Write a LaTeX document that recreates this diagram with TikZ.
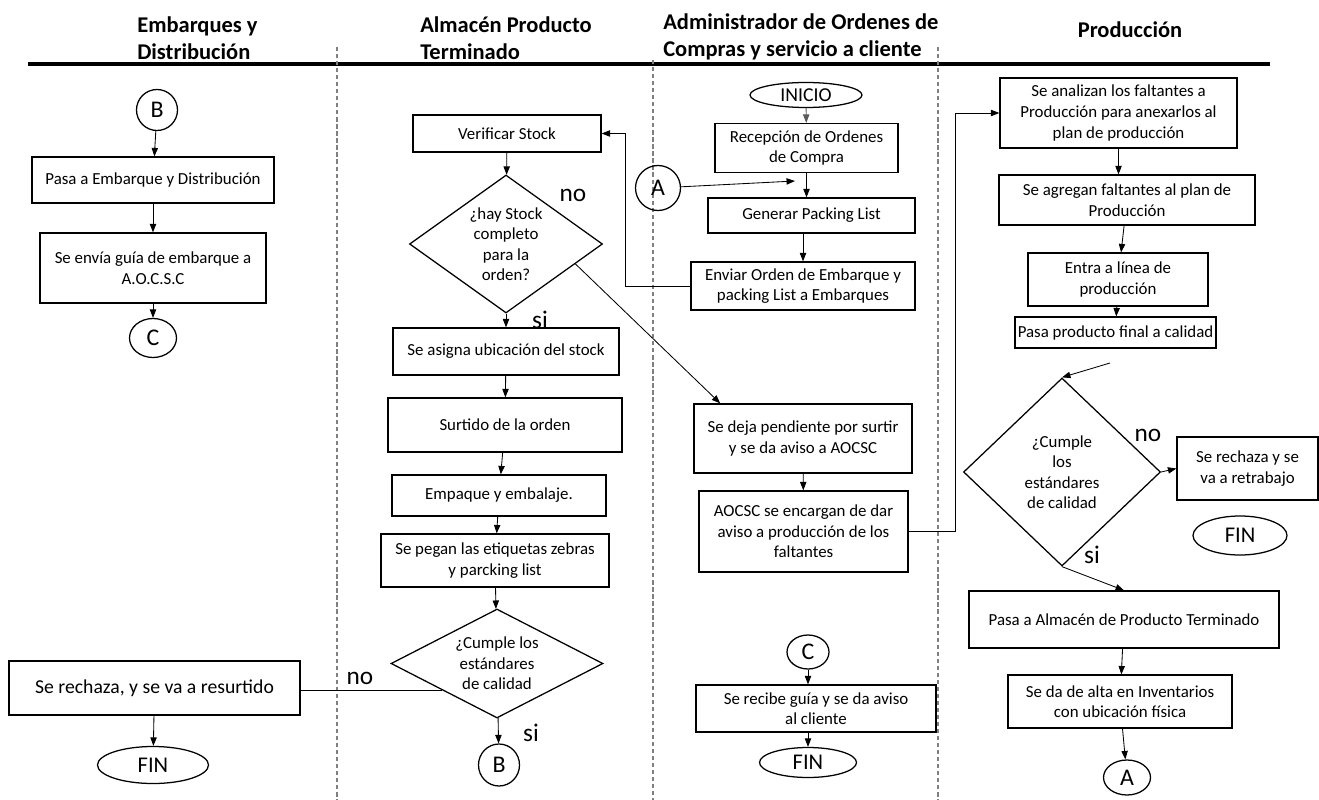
\documentclass[tikz,border=0pt]{standalone}
\usepackage{fontspec}
\setmainfont{Carlito}
\usetikzlibrary{shapes.geometric, arrows.meta}
\tikzset{
  block/.style = {rectangle, draw, line width=0.9pt, align=center, inner sep=2pt, font=\fontsize{12}{14.6}\selectfont},
  decision/.style = {diamond, draw, line width=0.9pt, align=center, inner sep=0pt, font=\fontsize{12}{14.6}\selectfont},
  terminal/.style = {ellipse, draw, line width=0.9pt, inner sep=0pt, font=\fontsize{16}{19}\selectfont},
  connector/.style = {ellipse, draw, line width=0.9pt, inner sep=0pt, font=\fontsize{17}{20}\selectfont},
  answer/.style = {inner sep=0pt, font=\fontsize{18}{20}\selectfont},
  lane/.style = {inner sep=0pt, align=left, font=\bfseries\fontsize{16}{19.5}\selectfont},
  divider/.style = {gray, line width=0.8pt, dash pattern=on 3pt off 2pt},
  arrow/.style = {-{Triangle[length=6pt, width=4.5pt]}, line width=0.6pt},
  sz/.style 2 args = {minimum width=#1*0.025cm, minimum height=#2*0.025cm}
}
\begin{document}
\begin{tikzpicture}[x=0.025cm, y=-0.025cm]
\useasboundingbox (0,0) rectangle (1319,800);

\node[lane, anchor=west] (h1) at (137,38) {Embarques y\\Distribución};
\node[lane, anchor=west] (h2) at (420,38) {Almacén Producto\\Terminado};
\node[lane, anchor=west] (h3) at (663,37) {Administrador de Ordenes de\\Compras y servicio a cliente};
\node[lane] (h4) at (1130,30) {Producción};

\draw[line width=2.8pt] (28,64) -- (1270,64);
\draw[divider] (337,47) -- (337,800);
\draw[divider] (653,60) -- (653,800);
\draw[divider] (938,47) -- (938,800);

\node[connector, sz={41}{41}] (b1) at (157,110) {B};
\node[block, sz={242}{46}] (pasaemb) at (153,180) {Pasa a Embarque y Distribución};
\node[block, sz={226}{70}] (guia) at (153,268) {Se envía guía de embarque a\\A.O.C.S.C};
\node[connector, sz={47}{39}] (c1) at (153,338) {C};
\node[block, sz={291}{54}, font=\fontsize{14}{17}\selectfont] (resurt) at (154.5,688) {Se rechaza, y se va a resurtido};
\node[terminal, sz={111}{37}] (fin1) at (153,765) {FIN};

\node[block, sz={188}{37}] (verif) at (507,133.5) {Verificar Stock};
\node[decision, sz={193}{138}, aspect=1.4] (stock) at (506,244) {¿hay Stock\\completo\\para la\\orden?};
\node[block, sz={226}{47}] (ubica) at (506,351.5) {Se asigna ubicación del stock};
\node[block, sz={234}{54}] (surt) at (505,425) {Surtido de la orden};
\node[block, sz={214}{41}] (empaq) at (499,495.5) {Empaque y embalaje.};
\node[block, sz={228}{53}] (etiq) at (495,560.5) {Se pegan las etiquetas zebras\\y parcking list};
\node[decision, sz={212}{109}, aspect=2] (cal1) at (497,663.5) {¿Cumple los\\estándares\\de calidad};
\node[connector, sz={41}{42}] (b2) at (499,765) {B};

\node[terminal, sz={112}{25}, font=\fontsize{14}{17}\selectfont] (inicio) at (806,95) {INICIO};
\node[block, sz={183}{49}] (recep) at (806.5,148) {Recepción de Ordenes\\de Compra};
\node[connector, sz={45}{45}] (a1) at (658,188) {A};
\node[block, sz={207}{35}] (packing) at (811.5,215.5) {Generar Packing List};
\node[block, sz={224}{48}] (orden) at (803,286) {Enviar Orden de Embarque y\\packing List a Embarques};
\node[block, sz={218}{69}] (pend) at (803,438.5) {Se deja pendiente por surtir\\y se da aviso a AOCSC};
\node[block, sz={209}{81}] (aviso) at (803.5,531.5) {AOCSC se encargan de dar\\aviso a producción de los\\faltantes};
\node[connector, sz={42}{34}] (c2) at (808,652) {C};
\node[block, sz={240}{47}] (recibe) at (816,708.5) {Se recibe guía y se da aviso\\al cliente};
\node[terminal, sz={97}{30}] (fin2) at (808,762.5) {FIN};

\node[block, sz={237}{70}] (analiza) at (1118.5,113) {Se analizan los faltantes a\\Producción para anexarlos al\\plan de producción};
\node[block, sz={256}{50}] (agrega) at (1127,200) {Se agregan faltantes al plan de\\Producción};
\node[block, sz={180}{53}] (linea) at (1118,279.5) {Entra a línea de\\producción};
\node[block, sz={183}{31}] (final) at (1115.5,332.5) {Pasa producto final a calidad};
\node[decision, sz={197}{188}, aspect=1] (cal2) at (1062,472) {¿Cumple\\los\\estándares\\de calidad};
\node[block, sz={141}{63}] (retrab) at (1247.5,468.5) {Se rechaza y se\\va a retrabajo};
\node[terminal, sz={94}{39}] (fin3) at (1240,535.5) {FIN};
\node[block, sz={310}{57}] (almacen) at (1124,619.5) {Pasa a Almacén de Producto Terminado};
\node[block, sz={224}{53}] (alta) at (1120,701.5) {Se da de alta en Inventarios\\con ubicación física};
\node[connector, sz={47}{35}] (a2) at (1127,777.5) {A};

\node[answer] (no1) at (573,195) {no};
\node[answer] (si1) at (540,320) {si};
\node[answer] (no2) at (360,678) {no};
\node[answer] (si2) at (531,733) {si};
\node[answer] (no3) at (1148,435) {no};
\node[answer] (si3) at (1092,555) {si};

\coordinate (ain) at (795,181);
\coordinate (q1) at (1110,363);

\draw[arrow] (b1) -- (pasaemb);
\draw[arrow] (pasaemb) -- (guia);
\draw[arrow] (guia) -- (c1);
\draw[arrow] (resurt) -- (fin1);

\draw[arrow] (verif) -- (stock);
\draw[arrow] (stock) -- (ubica);
\draw[arrow] (ubica) -- (surt);
\draw[arrow] (surt) -- (empaq);
\draw[arrow] (empaq) -- (etiq);
\draw[arrow] (etiq) -- (cal1);
\draw[arrow] (cal1) -- (b2);
\draw[arrow] (stock.-16) -- (pend.157);
\draw[line width=0.6pt] (cal1.206) -- (cal1.206 -| resurt.east);

\draw[arrow, gray!70!black] (inicio) -- (recep);
\draw[arrow] (recep.south) -- (recep.south |- packing.north);
\draw[arrow] (a1) -- (ain);
\draw[arrow] (orden.north |- packing.south) -- (orden.north);
\draw[arrow] (orden.west) -- ++(-65,0) |- (verif.east);
\draw[arrow] (pend) -- (aviso);
\draw[arrow] (aviso.east) -- ++(47,0) |- (analiza.west);
\draw[arrow] (c2.south) -- (c2.south |- recibe.north);
\draw[arrow] (fin2.north |- recibe.south) -- (fin2.north);

\draw[arrow] (analiza.south) -- (analiza.south |- agrega.north);
\draw[arrow] (agrega) -- (linea);
\draw[arrow] (linea) -- (final);
\draw[arrow] (q1) -- (cal2.north);
\draw[arrow] (cal2.east) -- (retrab.west);
\draw[arrow] (cal2.south) -- (almacen.north);
\draw[arrow] (almacen) -- (alta);
\draw[arrow] (alta) -- (a2);

\end{tikzpicture}
\end{document}
